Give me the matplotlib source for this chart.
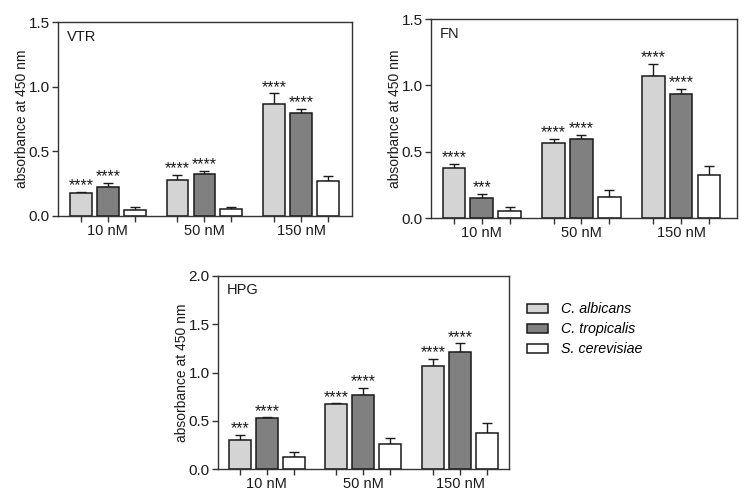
import numpy as np
import matplotlib
matplotlib.use("Agg")
import matplotlib.pyplot as plt
from matplotlib.patches import Patch

plt.rcParams['font.family'] = ['Liberation Sans', 'DejaVu Sans']

concentrations = ["10 nM", "50 nM", "150 nM"]
species = ["C. albicans", "C. tropicalis", "S. cerevisiae"]
colors = ["#d4d4d4", "#808080", "#ffffff"]

# VTR
vtr_means = [[0.175, 0.275, 0.867], [0.224, 0.324, 0.795], [0.046, 0.054, 0.268]]
vtr_errs = [[0.013, 0.045, 0.082], [0.031, 0.026, 0.036], [0.021, 0.013, 0.038]]
vtr_stars = [["****", "****", "****"], ["****", "****", "****"], ["", "", ""]]

# FN
fn_means = [[0.376, 0.569, 1.071], [0.153, 0.592, 0.936], [0.055, 0.158, 0.326]]
fn_errs = [[0.030, 0.025, 0.093], [0.030, 0.035, 0.037], [0.025, 0.050, 0.068]]
fn_stars = [["****", "****", "****"], ["***", "****", "****"], ["", "", ""]]

# HPG
hpg_means = [[0.303, 0.676, 1.069], [0.528, 0.766, 1.210], [0.128, 0.259, 0.376]]
hpg_errs = [[0.049, 0.004, 0.076], [0.006, 0.075, 0.093], [0.048, 0.058, 0.096]]
hpg_stars = [["***", "****", "****"], ["****", "****", "****"], ["", "", ""]]

fig = plt.figure(figsize=(7.46, 4.98), dpi=100)

def panel(rect, means, errs, stars, title, ymax, xlim):
    ax = fig.add_axes(rect)
    x = np.arange(len(concentrations))
    bw = 0.227
    off = 0.279
    for i in range(3):
        pos = x + (i - 1) * off
        m = np.array(means[i])
        e = np.array(errs[i])
        ax.bar(pos, m, width=bw, color=colors[i], edgecolor="#1a1a1a",
               linewidth=1.1, zorder=2)
        ax.errorbar(pos, m, yerr=[np.zeros_like(e), e], fmt="none",
                    ecolor="#1a1a1a", elinewidth=1.0, capsize=3.3,
                    capthick=1.0, zorder=1)
        for p, mv, ev, s in zip(pos, m, e, stars[i]):
            if s:
                ax.annotate(s, (p, mv + ev), xytext=(0, -1.0),
                            textcoords="offset points", ha="center",
                            va="bottom", fontsize=11.5, color="#1a1a1a")
    allpos = []
    alllab = []
    for g in range(3):
        for i in range(3):
            allpos.append(g + (i - 1) * off)
            alllab.append(concentrations[g] if i == 1 else "")
    ax.set_xticks(allpos)
    ax.set_xticklabels(alllab, fontsize=10.5, color="#1a1a1a")
    ax.set_xlim(*xlim)
    ax.set_ylim(0, ymax)
    yt = np.arange(0, ymax + 0.01, 0.5)
    ax.set_yticks(yt)
    ax.set_yticklabels([f"{v:.1f}" for v in yt], fontsize=11, color="#1a1a1a")
    ax.tick_params(axis="both", direction="out", length=4, width=1,
                   color="#333333", pad=2)
    ax.set_ylabel("absorbance at 450 nm", fontsize=10, color="#1a1a1a",
                  labelpad=0)
    for sp in ax.spines.values():
        sp.set_color("#333333")
        sp.set_linewidth(1.0)
    ax.text(0.03, 0.925, title, transform=ax.transAxes, fontsize=10.5,
            ha="left", va="center", color="#1a1a1a")
    return ax

panel([0.0777, 0.5663, 0.3941, 0.3895], vtr_means, vtr_errs, vtr_stars,
      "VTR", 1.5, (-0.515, 2.525))
panel([0.5777, 0.5622, 0.4102, 0.3996], fn_means, fn_errs, fn_stars,
      "FN", 1.5, (-0.51, 2.56))
panel([0.2922, 0.0582, 0.3901, 0.3876], hpg_means, hpg_errs, hpg_stars,
      "HPG", 2.0, (-0.505, 2.507))

handles = [Patch(facecolor=c, edgecolor="#1a1a1a", linewidth=1.1) for c in colors]
fig.legend(handles, species, loc="upper left", bbox_to_anchor=(0.7064, 0.393),
           frameon=False, handlelength=1.5, handleheight=0.55,
           labelspacing=0.42, handletextpad=0.86, borderpad=0,
           borderaxespad=0,
           prop={"style": "italic", "size": 10.3})

fig.savefig("out.png", dpi=100)
